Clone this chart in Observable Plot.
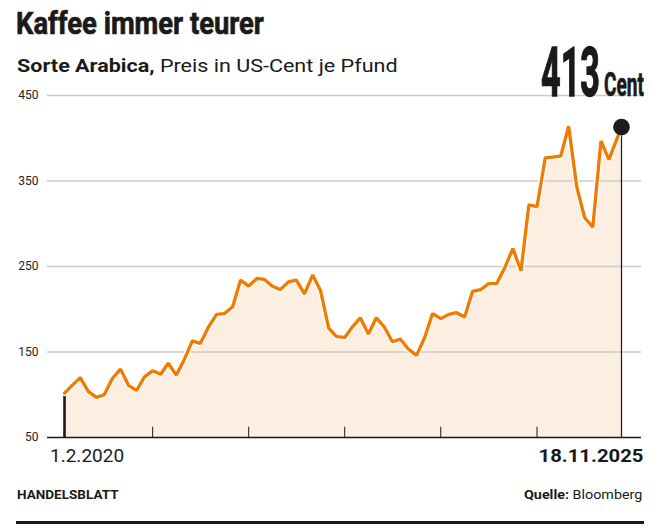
<!DOCTYPE html>
<html>
<head>
<meta charset="utf-8">
<script src="https://cdn.jsdelivr.net/npm/d3@7"></script>
<script src="https://cdn.jsdelivr.net/npm/@observablehq/plot@0.6"></script>
<style>
  html, body { margin: 0; padding: 0; background: #fff; }
  #c { position: relative; width: 657px; height: 532px; overflow: hidden; font-family: Roboto, "Noto Sans", sans-serif; color: #1a1a1a; }
  .t { position: absolute; white-space: nowrap; display: inline-block; line-height: 1; }
  .heavy { -webkit-text-stroke: 0.7px #1a1a1a; }
  #chart { position: absolute; left: 0; top: 80px; }
</style>
</head>
<body>
<div id="c">
  <div class="t heavy" id="title" style="left:16px;top:6.5px;font-size:32px;font-weight:700;">Kaffee immer teurer</div>
  <div class="t" id="sub" style="left:16.5px;top:55.7px;font-size:19px;"><b>Sorte Arabica,</b> Preis in US-Cent je Pfund</div>
  <div class="t heavy" id="big" style="left:541px;top:39px;font-size:68.5px;font-weight:700;z-index:2;-webkit-text-stroke:1.4px #1a1a1a;">413</div>
  <div class="t heavy" id="cent" style="left:604px;top:68.2px;font-size:33.8px;font-weight:700;z-index:2;">Cent</div>
  <div id="chart"></div>
  <div class="t" id="hb" style="left:16.8px;top:488.4px;font-size:13px;font-weight:700;">HANDELSBLATT</div>
  <div class="t" id="src" style="right:15px;top:488.4px;font-size:13px;"><b>Quelle:</b> Bloomberg</div>
  <div style="position:absolute;left:16px;top:520.5px;width:628px;height:3px;background:#1a1a1a;"></div>
</div>
<script>
// Monthly Arabica price, US-Cent per pound
const dates = [
  "2020-02-01","2020-03-01","2020-04-01","2020-05-01","2020-06-01","2020-07-01","2020-08-01","2020-09-01","2020-10-01","2020-11-01","2020-12-01",
  "2021-01-01","2021-02-01","2021-03-01","2021-04-01","2021-05-01","2021-06-01","2021-07-01","2021-08-01","2021-09-01","2021-10-01","2021-11-01","2021-12-01",
  "2022-01-01","2022-02-01","2022-03-01","2022-04-01","2022-05-01","2022-06-01","2022-07-01","2022-08-01","2022-09-01","2022-10-01","2022-11-01","2022-12-01",
  "2023-01-01","2023-02-01","2023-03-01","2023-04-01","2023-05-01","2023-06-01","2023-07-01","2023-08-01","2023-09-01","2023-10-01","2023-11-01","2023-12-01",
  "2024-01-01","2024-02-01","2024-03-01","2024-04-01","2024-05-01","2024-06-01","2024-07-01","2024-08-01","2024-09-01","2024-10-01","2024-11-01","2024-12-01",
  "2025-01-01","2025-02-01","2025-03-01","2025-04-01","2025-05-01","2025-06-01","2025-07-01","2025-08-01","2025-09-01","2025-10-01","2025-11-18"
];
const prices = [
  102,111,120,104,97,100,119,130,111,105,121,
  128,124,137,123,141,163,160,179,194,195,203,234,
  227,236,235,227,223,232,234,218,240,222,178,168,
  167,180,190,171,190,179,162,165,153,146,167,195,
  189,194,196,191,221,223,230,230,249,271,245,322,
  320,377,378,379,414,343,307,296,397,375,413
];
const yTicks = [50, 150, 250, 350, 450];
const yearTicks = ["2021-01-01","2022-01-01","2023-01-01","2024-01-01","2025-01-01"];
const xLabels = ["1.2.2020", "18.11.2025"];

const data = dates.map((d, i) => ({date: new Date(d), value: prices[i]}));
const first = data[0];
const last = data[data.length - 1];
const baseY = yTicks[0];

const chart = Plot.plot({
  width: 657,
  height: 395,
  marginTop: 15,
  marginBottom: 38,
  marginLeft: 47,
  marginRight: 16,
  style: {fontFamily: "Roboto, 'Noto Sans', sans-serif", fontSize: "12px", color: "#222", background: "transparent", overflow: "visible"},
  x: {type: "utc", domain: [first.date, last.date], range: [64, 621], axis: null},
  y: {domain: [yTicks[0], yTicks[yTicks.length - 1]]},
  marks: [
    Plot.areaY(data, {x: "date", y1: baseY, y2: "value", fill: "#fdeee2"}),
    Plot.ruleY(yTicks.slice(1), {stroke: "#cbcbcb", strokeWidth: 1.6}),
    Plot.ruleY([baseY], {stroke: "#1a1a1a", strokeWidth: 1.6}),
    Plot.ruleX(yearTicks.map(d => new Date(d)), {y1: baseY, y2: 62, stroke: "#1a1a1a", strokeWidth: 1}),
    Plot.ruleX([first], {x: "date", y1: baseY, y2: "value", stroke: "#1a1a1a", strokeWidth: 2.6}),
    Plot.ruleX([last], {x: "date", y1: baseY, y2: "value", stroke: "#1a1a1a", strokeWidth: 1.2}),
    Plot.line(data, {x: "date", y: "value", stroke: "white", strokeWidth: 6, strokeLinejoin: "miter"}),
    Plot.line(data, {x: "date", y: "value", stroke: "#ef7b00", strokeWidth: 3.3, strokeLinejoin: "miter"}),
    Plot.dot([last], {x: "date", y: "value", r: 8.3, fill: "#1c1c1c"}),
    Plot.axisY(yTicks, {tickSize: 0, tickPadding: 9, fontSize: 12}),
    Plot.text([{date: first.date, y: baseY, label: xLabels[0]}], {x: "date", y: "y", text: "label", dy: 18, dx: -14.5, textAnchor: "start", fontSize: 19, fill: "#1a1a1a", className: "xlab-start"}),
    Plot.text([{date: last.date, y: baseY, label: xLabels[1]}], {x: "date", y: "y", text: "label", dy: 18, dx: 22, textAnchor: "end", fontSize: 19, fontWeight: 700, fill: "#1a1a1a", className: "xlab-end"})
  ]
});
document.getElementById("chart").appendChild(chart);
// widen the bold end-date label to the reference's letter width
chart.querySelectorAll(".xlab-end text").forEach(t => {
  t.setAttribute("textLength", 105);
  t.setAttribute("lengthAdjust", "spacingAndGlyphs");
});

function fit(id, target, origin) {
  const el = document.getElementById(id);
  const w = el.offsetWidth;
  if (w > 0) {
    el.style.transformOrigin = origin || "left top";
    el.style.transform = `scaleX(${target / w})`;
  }
}
function fitAll() {
  fit("title", 248);
  fit("sub", 381);
  fit("big", 59);
  fit("cent", 40);
  fit("hb", 102);
  fit("src", 118, "right top");
}
fitAll();
if (document.fonts && document.fonts.ready) document.fonts.ready.then(fitAll);
</script>
</body>
</html>
